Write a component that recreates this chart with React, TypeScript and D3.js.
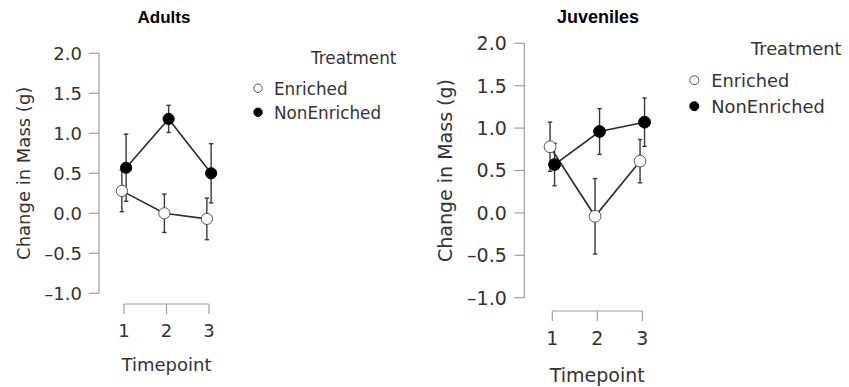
import React from "react";
import * as d3 from "d3";

// Change in mass (g) per timepoint, group means and standard errors
const timepoints = [1, 2, 3];
const yTicks = [2.0, 1.5, 1.0, 0.5, 0.0, -0.5, -1.0];
const treatments = ["Enriched", "NonEnriched"];

const adultsEnriched = [0.28, 0.0, -0.07];
const adultsEnrichedSE = [0.26, 0.24, 0.26];
const adultsNonEnriched = [0.57, 1.18, 0.5];
const adultsNonEnrichedSE = [0.42, 0.17, 0.37];

const juvenilesEnriched = [0.78, -0.04, 0.61];
const juvenilesEnrichedSE = [0.29, 0.445, 0.255];
const juvenilesNonEnriched = [0.57, 0.96, 1.07];
const juvenilesNonEnrichedSE = [0.25, 0.27, 0.285];

type Series = { name: string; mean: number[]; se: number[]; filled: boolean; offset: number };

type PanelLayout = {
  title: string;
  titleX: number;
  titleY: number;
  titleSize: number;
  axisX: number;
  yTop: number;
  yBottom: number;
  xLeft: number;
  xRight: number;
  xAxisY: number;
  tickLen: number;
  font: number;
  tickLabelGap: number;
  xLabelY: number;
  xTitleY: number;
  yTitleX: number;
  legendX: number;
  legendTitleX: number;
  legendTitleY: number;
  legendY: number[];
  legendFont: number;
  legendR: number;
  r: number;
  series: Series[];
};

const fmt = (v: number) => (v < 0 ? "\u2013" + Math.abs(v).toFixed(1) : v.toFixed(1));

function Panel({ p }: { p: PanelLayout }) {
  const y = d3.scaleLinear().domain([-1, 2]).range([p.yBottom, p.yTop]);
  const x = d3.scaleLinear().domain([1, 3]).range([p.xLeft, p.xRight]);
  const line = d3
    .line<[number, number]>()
    .x((d) => d[0])
    .y((d) => d[1]);
  const axisColor = "#a0a0a0";
  const textColor = "#333";
  const markColor = "#2b2b2b";
  const cap = 2.2;
  const midY = (p.yTop + p.yBottom) / 2;
  const dodge = 0.05;

  return (
    <g fontFamily="'DejaVu Sans', sans-serif">
      <text
        x={p.titleX}
        y={p.titleY}
        textAnchor="middle"
        fontFamily="'Liberation Sans', Arial, sans-serif"
        fontWeight="bold"
        fontSize={p.titleSize}
        fill="#000"
      >
        {p.title}
      </text>

      {/* y axis */}
      <line x1={p.axisX} x2={p.axisX} y1={y(2)} y2={y(-1)} stroke={axisColor} strokeWidth={1.2} />
      {yTicks.map((t) => (
        <g key={t}>
          <line x1={p.axisX - p.tickLen} x2={p.axisX} y1={y(t)} y2={y(t)} stroke={axisColor} strokeWidth={1.2} />
          <text
            x={p.axisX - p.tickLen - p.tickLabelGap}
            y={y(t)}
            dy="0.36em"
            textAnchor="end"
            fontSize={p.font}
            fill={textColor}
          >
            {fmt(t)}
          </text>
        </g>
      ))}
      <text
        transform={`translate(${p.yTitleX},${midY}) rotate(-90)`}
        textAnchor="middle"
        fontSize={p.font}
        fill={textColor}
      >
        Change in Mass (g)
      </text>

      {/* x axis */}
      <line x1={x(1)} x2={x(3)} y1={p.xAxisY} y2={p.xAxisY} stroke={axisColor} strokeWidth={1.2} />
      {timepoints.map((t) => (
        <g key={t}>
          <line x1={x(t)} x2={x(t)} y1={p.xAxisY} y2={p.xAxisY + p.tickLen} stroke={axisColor} strokeWidth={1.2} />
          <text x={x(t)} y={p.xLabelY} textAnchor="middle" fontSize={p.font} fill={textColor}>
            {t}
          </text>
        </g>
      ))}
      <text x={x(2)} y={p.xTitleY} textAnchor="middle" fontSize={p.font} fill={textColor}>
        Timepoint
      </text>

      {/* series lines */}
      {p.series.map((s) => (
        <path
          key={s.name + "-line"}
          d={line(timepoints.map((t, i) => [x(t + s.offset * dodge), y(s.mean[i])]) as [number, number][]) || ""}
          fill="none"
          stroke={markColor}
          strokeWidth={1.6}
        />
      ))}
      {/* error bars */}
      {p.series.map((s) =>
        timepoints.map((t, i) => {
          const cx = x(t + s.offset * dodge);
          const hi = y(s.mean[i] + s.se[i]);
          const lo = y(s.mean[i] - s.se[i]);
          return (
            <g key={s.name + "-eb-" + t} stroke="#3a3a3a" strokeWidth={1.4}>
              <line x1={cx} x2={cx} y1={hi} y2={lo} />
              <line x1={cx - cap} x2={cx + cap} y1={hi} y2={hi} />
              <line x1={cx - cap} x2={cx + cap} y1={lo} y2={lo} />
            </g>
          );
        })
      )}
      {/* points */}
      {p.series.map((s) =>
        timepoints.map((t, i) => (
          <circle
            key={s.name + "-pt-" + t}
            cx={x(t + s.offset * dodge)}
            cy={y(s.mean[i])}
            r={p.r}
            fill={s.filled ? "#000" : "#fff"}
            stroke={s.filled ? "#000" : "#555"}
            strokeWidth={1}
          />
        ))
      )}

      {/* legend */}
      <text x={p.legendTitleX} y={p.legendTitleY} fontSize={p.legendFont} fill={textColor}>
        Treatment
      </text>
      {p.series.map((s, i) => (
        <g key={s.name + "-legend"}>
          <circle
            cx={p.legendX}
            cy={p.legendY[i] - p.legendFont * 0.4}
            r={p.legendR}
            fill={s.filled ? "#000" : "#fff"}
            stroke={s.filled ? "#000" : "#555"}
            strokeWidth={1}
          />
          <text x={p.legendX + p.legendFont * 0.95} y={p.legendY[i]} fontSize={p.legendFont} fill={textColor}>
            {s.name}
          </text>
        </g>
      ))}
    </g>
  );
}

const adultsPanel: PanelLayout = {
  title: "Adults",
  titleX: 164,
  titleY: 23,
  titleSize: 17,
  axisX: 99,
  yTop: 53.3,
  yBottom: 293.3,
  xLeft: 124,
  xRight: 209,
  xAxisY: 304,
  tickLen: 10,
  font: 18,
  tickLabelGap: 7,
  xLabelY: 337,
  xTitleY: 371,
  yTitleX: 30,
  legendX: 258,
  legendTitleX: 311,
  legendTitleY: 64,
  legendY: [95, 119],
  legendFont: 16.8,
  legendR: 4.2,
  r: 5.6,
  series: [
    { name: treatments[0], mean: adultsEnriched, se: adultsEnrichedSE, filled: false, offset: -1 },
    { name: treatments[1], mean: adultsNonEnriched, se: adultsNonEnrichedSE, filled: true, offset: 1 },
  ],
};

const juvenilesPanel: PanelLayout = {
  title: "Juveniles",
  titleX: 598,
  titleY: 23,
  titleSize: 18,
  axisX: 524.3,
  yTop: 43.3,
  yBottom: 297.7,
  xLeft: 552.3,
  xRight: 642.3,
  xAxisY: 311,
  tickLen: 10,
  font: 19,
  tickLabelGap: 7.5,
  xLabelY: 345,
  xTitleY: 381.5,
  yTitleX: 451.5,
  legendX: 694.3,
  legendTitleX: 751,
  legendTitleY: 55,
  legendY: [87.3, 113.3],
  legendFont: 17.8,
  legendR: 4.5,
  r: 5.9,
  series: [
    { name: treatments[0], mean: juvenilesEnriched, se: juvenilesEnrichedSE, filled: false, offset: -1 },
    { name: treatments[1], mean: juvenilesNonEnriched, se: juvenilesNonEnrichedSE, filled: true, offset: 1 },
  ],
};

export default function App() {
  return (
    <svg
      width={849}
      height={387}
      viewBox="0 0 849 387"
      style={{ position: "absolute", left: 0, top: 0, background: "#fff" }}
    >
      <rect width={849} height={387} fill="#fff" />
      <Panel p={adultsPanel} />
      <Panel p={juvenilesPanel} />
    </svg>
  );
}
